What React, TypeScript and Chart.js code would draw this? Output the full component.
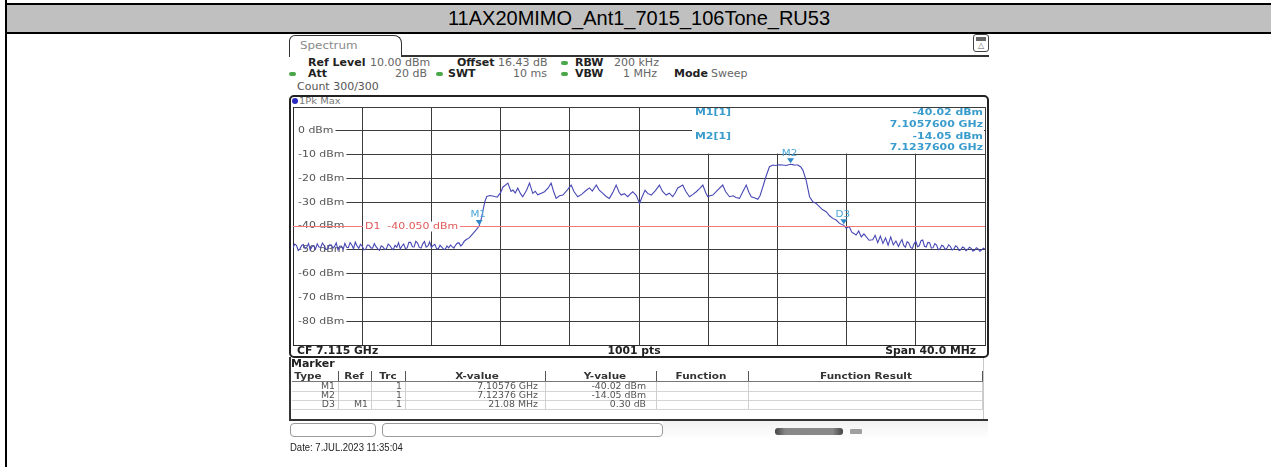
import React, { useEffect, useRef } from "react";
import { Chart, registerables } from "chart.js";

Chart.register(...registerables);

// ---------------- data ----------------
const titleText = "11AX20MIMO_Ant1_7015_106Tone_RU53";
const centerFreqGHz = 7.115;
const spanMHz = 40;
const refLevelDbm = 10;
const yDivDb = 10;
const displayLineDbm = -40.05;

const traceFreqGHz = [
  7.0950, 7.0951, 7.0952, 7.0953, 7.0954, 7.0955, 7.0956, 7.0957, 7.0958, 7.0959,
  7.0960, 7.0961, 7.0962, 7.0963, 7.0964, 7.0965, 7.0966, 7.0967, 7.0968, 7.0969,
  7.0970, 7.0971, 7.0972, 7.0973, 7.0974, 7.0975, 7.0976, 7.0977, 7.0978, 7.0979,
  7.0980, 7.0981, 7.0982, 7.0983, 7.0984, 7.0985, 7.0986, 7.0987, 7.0988, 7.0989,
  7.0990, 7.0991, 7.0992, 7.0993, 7.0994, 7.0995, 7.0996, 7.0997, 7.0998, 7.0999,
  7.1000, 7.1001, 7.1002, 7.1003, 7.1004, 7.1005, 7.1006, 7.1007, 7.1008, 7.1009,
  7.1010, 7.1011, 7.1012, 7.1013, 7.1014, 7.1015, 7.1016, 7.1017, 7.1018, 7.1019,
  7.1020, 7.1021, 7.1022, 7.1023, 7.1024, 7.1025, 7.1026, 7.1027, 7.1028, 7.1029,
  7.1030, 7.1031, 7.1032, 7.1033, 7.1034, 7.1035, 7.1036, 7.1037, 7.1038, 7.1039,
  7.1040, 7.1041, 7.1042, 7.1043, 7.1044, 7.1045, 7.1046, 7.1047, 7.1048, 7.1049,
  7.1050, 7.1052, 7.1054, 7.1056, 7.10576, 7.1059, 7.1060, 7.1061, 7.1062, 7.1064,
  7.1066, 7.1068, 7.1070, 7.10713, 7.10742, 7.1076, 7.10771, 7.10785, 7.10799, 7.10815,
  7.10828, 7.1085, 7.10867, 7.10886, 7.1090, 7.10915, 7.10935, 7.10954, 7.10975, 7.10992,
  7.11005, 7.11021, 7.1104, 7.1106, 7.11085, 7.11108, 7.11125, 7.11146, 7.1117, 7.11195,
  7.11214, 7.1123, 7.11253, 7.1127, 7.11291, 7.1131, 7.11329, 7.1135, 7.11368, 7.11385,
  7.11397, 7.11415, 7.11435, 7.1145, 7.11464, 7.11485, 7.11503, 7.1152, 7.11535, 7.1155,
  7.11571, 7.11595, 7.11618, 7.11635, 7.11657, 7.11675, 7.11695, 7.1171, 7.11724, 7.11753,
  7.1177, 7.11792, 7.1181, 7.11831, 7.1185, 7.11869, 7.11885, 7.11898, 7.1191, 7.11927,
  7.1195, 7.11984, 7.1200, 7.12023, 7.12045, 7.1206, 7.12081, 7.1210, 7.1212, 7.12135,
  7.12149, 7.1217, 7.12187, 7.1220, 7.12216, 7.12235, 7.12254, 7.12273, 7.1229, 7.1231,
  7.12331, 7.1235, 7.12376, 7.12395, 7.12418, 7.12435, 7.12447, 7.12466, 7.12486, 7.12505,
  7.12525, 7.12543, 7.1256, 7.12582, 7.1260, 7.1262, 7.1264, 7.12659, 7.12684, 7.12698,
  7.12715, 7.1273, 7.12755, 7.1277, 7.12785, 7.1280, 7.12813, 7.1283, 7.12851, 7.12865,
  7.1288, 7.12895, 7.1291, 7.12925, 7.1294, 7.12955, 7.1297, 7.12985,
  7.1300, 7.1301, 7.1302, 7.1303, 7.1304, 7.1305, 7.1306, 7.1307, 7.1308, 7.1309,
  7.1310, 7.1311, 7.1312, 7.1313, 7.1314, 7.1315, 7.1316, 7.1317, 7.1318, 7.1319,
  7.1320, 7.1321, 7.1322, 7.1323, 7.1324, 7.1325, 7.1326, 7.1327, 7.1328, 7.1329,
  7.1330, 7.1331, 7.1332, 7.1333, 7.1334, 7.1335, 7.1336, 7.1337, 7.1338, 7.1339,
  7.1340, 7.1341, 7.1342, 7.1343, 7.1344, 7.1345, 7.1346, 7.1347, 7.1348, 7.1349,
  7.1350,
];

const traceLevelDbm = [
  -49.2, -47.6, -48.1, -50.3, -49.6, -48.2, -47.8, -49.5, -48.9, -47.4,
  -50.1, -48.6, -48.3, -49.7, -47.5, -48.8, -49.0, -47.2, -48.2, -49.9,
  -49.7, -48.0, -47.9, -49.4, -48.6, -47.1, -50.0, -48.5, -48.4, -49.8,
  -47.3, -48.9, -49.1, -47.0, -48.0, -49.6, -46.8, -48.3, -49.4, -47.7,
  -48.5, -50.0, -49.8, -48.0, -48.1, -49.2, -49.3, -47.4, -48.7, -49.6,
  -50.2, -48.3, -48.8, -49.9, -49.5, -47.6, -48.2, -49.4, -49.9, -48.1,
  -48.9, -47.0, -49.6, -48.4, -47.6, -49.5, -49.2, -46.9, -46.9, -48.7,
  -48.8, -46.4, -47.2, -49.0, -49.3, -47.5, -46.5, -48.9, -48.4, -46.7,
  -49.1, -48.2, -47.7, -49.5, -49.6, -48.1, -48.9, -49.7, -49.8, -48.4,
  -49.2, -48.0, -48.7, -49.3, -48.0, -47.2, -47.1, -48.4, -47.6, -46.4,
  -45.8, -44.9, -43.2, -41.5, -40.02, -36.5, -32.8, -29.5, -27.6, -27.2,
  -27.5, -27.9, -26.0, -23.7, -22.0, -25.5, -24.9, -26.1, -24.0, -26.4,
  -27.7, -25.0, -22.0, -26.3, -25.4, -26.9, -26.2, -25.6, -24.0, -22.0,
  -25.2, -28.4, -27.3, -27.0, -24.9, -22.8, -25.6, -27.7, -26.6, -25.0,
  -24.0, -25.3, -22.8, -24.9, -26.3, -27.6, -28.4, -25.7, -22.8, -25.8,
  -27.0, -26.4, -27.7, -26.5, -25.6, -27.2, -30.5, -27.4, -25.0, -26.3,
  -27.0, -25.1, -22.8, -25.4, -27.0, -26.2, -27.7, -26.0, -24.0, -22.8,
  -25.4, -27.7, -26.8, -25.6, -24.3, -22.8, -25.9, -27.7, -27.3, -27.0,
  -25.2, -22.8, -25.5, -27.7, -27.3, -28.0, -28.4, -25.6, -22.8, -25.8,
  -27.7, -28.2, -28.8, -27.2, -23.5, -19.0, -15.1, -14.4, -14.6, -14.3,
  -14.4, -14.6, -14.05, -14.3, -14.4, -15.2, -16.5, -20.7, -27.7, -29.8,
  -30.6, -31.9, -33.1, -34.0, -35.6, -36.8, -37.5, -38.9, -39.72, -41.0,
  -40.2, -42.6, -43.8, -42.1, -44.6, -43.3, -44.5, -46.0, -45.8, -43.9,
  -47.0, -44.2, -47.3, -45.0, -48.1, -44.6, -47.9, -46.3,
  -48.6, -46.9, -45.7, -48.2, -48.9, -46.6, -47.2, -49.0, -49.4, -47.5,
  -46.4, -48.7, -48.3, -46.2, -45.9, -48.5, -48.8, -46.9, -47.0, -49.3,
  -49.1, -47.4, -48.0, -50.0, -49.6, -48.1, -48.5, -49.9, -49.3, -47.9,
  -48.6, -50.1, -49.7, -48.3, -48.9, -50.3, -50.0, -48.8, -49.2, -50.4,
  -49.8, -48.9, -49.4, -50.5, -50.2, -49.1, -49.6, -50.6, -50.1, -49.3,
  -49.7,
];

const markerNames = ["M1", "M2", "D3"];
const markerFreqGHz = [7.10576, 7.12376, 7.12684];
const markerLevelDbm = [-40.02, -14.05, -39.72];

const infoLabels = ["M1[1]", "M2[1]"];
const infoLevels = ["-40.02 dBm", "-14.05 dBm"];
const infoFreqs = ["7.1057600 GHz", "7.1237600 GHz"];

const tableHeaders = ["Type", "Ref", "Trc", "X-value", "Y-value", "Function", "Function Result"];
const tableType = ["M1", "M2", "D3"];
const tableRef = ["", "", "M1"];
const tableTrc = ["1", "1", "1"];
const tableX = ["7.10576 GHz", "7.12376 GHz", "21.08 MHz"];
const tableY = ["-40.02 dBm", "-14.05 dBm", "0.30 dB"];

// ---------------- helpers ----------------
const UI = "'DejaVu Sans', sans-serif";
const SX = 1.15;

function T(props: {
  x: number; y: number; children: React.ReactNode; size?: number; bold?: boolean;
  color?: string; align?: "left" | "right" | "center"; sx?: number; family?: string;
}) {
  const { x, y, children, size = 10, bold = false, color = "#333", align = "left", sx = SX, family = UI } = props;
  const tx = align === "left" ? 0 : align === "right" ? -100 : -50;
  return (
    <span
      style={{
        position: "absolute", left: x, top: y, whiteSpace: "nowrap", fontFamily: family,
        fontSize: size, fontWeight: bold ? "bold" : "normal", color, lineHeight: 1.15,
        transform: `translateY(-50%) scaleX(${sx}) translateX(${tx}%)`, transformOrigin: "left center",
      }}
    >
      {children}
    </span>
  );
}

function Box(props: { x: number; y: number; w: number; h: number; style?: React.CSSProperties }) {
  return <div style={{ position: "absolute", left: props.x, top: props.y, width: props.w, height: props.h, boxSizing: "border-box", ...props.style }} />;
}

function Green(props: { x: number; y: number }) {
  return <Box x={props.x} y={props.y - 2} w={7} h={4} style={{ background: "#4aa84a", borderRadius: 2 }} />;
}

function drawScaled(ctx: CanvasRenderingContext2D, text: string, x: number, y: number, align: CanvasTextAlign, sx = SX) {
  ctx.save();
  ctx.translate(x, y);
  ctx.scale(sx, 1);
  ctx.textAlign = align;
  ctx.textBaseline = "middle";
  ctx.fillText(text, 0, 0);
  ctx.restore();
}

const overlayPlugin = {
  id: "overlay",
  beforeDatasetsDraw(chart: any) {
    const { ctx, chartArea: a, scales } = chart;
    const ys = scales.y;
    ctx.save();
    // marker info box (covers grid)
    const boxBottom = ys.getPixelForValue(-10) - 1;
    ctx.fillStyle = "#ffffff";
    ctx.fillRect(a.left + 399, a.top + 1, a.right - a.left - 400, boxBottom - a.top - 1);
    ctx.fillStyle = "#3a9ccc";
    ctx.font = `bold 9.5px ${UI}`;
    for (let i = 0; i < infoLabels.length; i++) {
      const y0 = a.top + 6 + i * 23.5;
      drawScaled(ctx, infoLabels[i], a.left + 402, y0, "left");
      drawScaled(ctx, infoLevels[i], a.right - 2, y0, "right");
      drawScaled(ctx, infoFreqs[i], a.right - 2, y0 + 11.5, "right");
    }
    // y tick labels (inside, with white backdrop)
    ctx.font = `9.5px ${UI}`;
    ys.ticks.forEach((t: any) => {
      if (t.value >= refLevelDbm || t.value <= refLevelDbm - 100) return;
      const py = ys.getPixelForValue(t.value);
      const label = `${t.value} dBm`;
      const w = ctx.measureText(label).width * SX;
      ctx.fillStyle = "#ffffff";
      ctx.fillRect(a.left + 1, py - 5, w + 6, 10);
      ctx.fillStyle = "#555555";
      drawScaled(ctx, label, a.left + 5, py, "left");
    });
    ctx.restore();
  },
  afterDatasetsDraw(chart: any) {
    const { ctx, chartArea: a, scales } = chart;
    const xs = scales.x, ys = scales.y;
    ctx.save();
    // display line D1
    const dy = Math.round(ys.getPixelForValue(displayLineDbm)) + 0.5;
    ctx.strokeStyle = "#f07a7a";
    ctx.lineWidth = 1;
    ctx.beginPath();
    ctx.moveTo(a.left, dy);
    ctx.lineTo(a.right, dy);
    ctx.stroke();
    ctx.font = `9.5px ${UI}`;
    const d1 = `D1  ${displayLineDbm.toFixed(3)} dBm`;
    const dw = ctx.measureText(d1).width * SX;
    ctx.fillStyle = "#ffffff";
    ctx.fillRect(a.left + 70, dy - 5, dw + 4, 10);
    ctx.fillStyle = "#e05858";
    drawScaled(ctx, d1, a.left + 72, dy, "left");
    // markers
    for (let i = 0; i < markerNames.length; i++) {
      const px = xs.getPixelForValue(markerFreqGHz[i]);
      const py = ys.getPixelForValue(markerLevelDbm[i]);
      ctx.fillStyle = "#2f88c8";
      ctx.beginPath();
      ctx.moveTo(px - 3.5, py - 6);
      ctx.lineTo(px + 3.5, py - 6);
      ctx.lineTo(px, py - 1);
      ctx.closePath();
      ctx.fill();
      ctx.fillStyle = "#4aa6d6";
      ctx.font = `9px ${UI}`;
      drawScaled(ctx, markerNames[i], px - 1, py - 11, "center");
    }
    ctx.restore();
  },
};

function SpectrumChart() {
  const ref = useRef<HTMLCanvasElement | null>(null);
  useEffect(() => {
    if (!ref.current) return;
    const half = spanMHz / 2 / 1000;
    const chart = new Chart(ref.current, {
      type: "line",
      data: {
        datasets: [
          {
            data: traceFreqGHz.map((f, i) => ({ x: f, y: traceLevelDbm[i] })),
            borderColor: "#4848b4",
            borderWidth: 1.1,
            pointRadius: 0,
            tension: 0,
            fill: false,
          },
        ],
      },
      options: {
        animation: false,
        responsive: false,
        events: [],
        layout: { padding: { left: 5, top: 5, right: 5, bottom: 5 } },
        plugins: { legend: { display: false }, tooltip: { enabled: false }, title: { display: false } },
        scales: {
          x: {
            type: "linear",
            min: centerFreqGHz - half,
            max: centerFreqGHz + half,
            ticks: { display: false, stepSize: spanMHz / 10 / 1000 },
            grid: { color: "#3c3c3c", drawTicks: false, lineWidth: 1 },
            border: { display: true, color: "#2a2a2a" },
            afterFit: (s: any) => { s.height = 0; },
          },
          y: {
            type: "linear",
            min: refLevelDbm - 100,
            max: refLevelDbm,
            ticks: { display: false, stepSize: yDivDb },
            grid: { color: "#3c3c3c", drawTicks: false, lineWidth: 1 },
            border: { display: true, color: "#2a2a2a" },
            afterFit: (s: any) => { s.width = 0; },
          },
        },
      },
      plugins: [overlayPlugin],
    } as any);
    return () => chart.destroy();
  }, []);
  return (
    <canvas
      ref={ref}
      width={702}
      height={248}
      style={{ position: "absolute", left: 288, top: 102, width: 702, height: 248 }}
    />
  );
}

// ---------------- page ----------------
export default function App() {
  const colSep = [338, 371, 405, 545, 656, 748, 982];
  const headerCenters = [308, 354, 388, 477, 605, 701, 866];
  const rowY = [386.5, 395.5, 404.5];
  return (
    <div style={{ position: "absolute", left: 0, top: 0, width: 1271, height: 467, background: "#fff", overflow: "hidden" }}>
      {/* title bar */}
      <Box x={7} y={5} w={1264} h={27} style={{ background: "#c0c0c0" }} />
      <Box x={5} y={3} w={1266} h={2} style={{ background: "#000" }} />
      <Box x={5} y={32} w={1266} h={2} style={{ background: "#000" }} />
      <Box x={5} y={0} w={2} h={467} style={{ background: "#000" }} />
      <div style={{ position: "absolute", left: 7, top: 5, width: 1264, height: 27, lineHeight: "27px", textAlign: "center", fontFamily: "'Liberation Sans', Arial, sans-serif", fontSize: 20, color: "#000" }}>
        {titleText}
      </div>

      {/* spectrum window tab */}
      <Box x={289} y={35} w={113} h={22} style={{ border: "1.5px solid #333", borderBottom: "none", borderRadius: "6px 8px 0 0" }} />
      <Box x={401} y={55} w={588} h={1.5} style={{ background: "#333" }} />
      <T x={300} y={46} size={11} color="#8a8a8a" sx={1.08}>Spectrum</T>
      <Box x={973} y={34} w={16} h={18} style={{ border: "1.2px solid #444", borderRadius: 3 }} />
      <Box x={976} y={37} w={10} h={4} style={{ background: "#666" }} />
      <T x={981} y={46} size={8} color="#666" align="center" sx={1}>△</T>

      {/* settings */}
      <T x={307.5} y={63} bold color="#222" sx={1.1}>Ref Level</T>
      <T x={370} y={63} color="#666" sx={1.1}>10.00 dBm</T>
      <T x={457} y={63} bold color="#222" sx={1.1}>Offset</T>
      <T x={498} y={63} color="#666" sx={1.1}>16.43 dB</T>
      <Green x={561} y={63} />
      <T x={575} y={63} bold color="#222" sx={1.1}>RBW</T>
      <T x={614} y={63} color="#666" sx={1.1}>200 kHz</T>

      <Green x={289} y={74} />
      <T x={307.5} y={74} bold color="#222" sx={1.1}>Att</T>
      <T x={427} y={74} color="#666" align="right" sx={1.1}>20 dB</T>
      <Green x={436} y={74} />
      <T x={448} y={74} bold color="#222" sx={1.1}>SWT</T>
      <T x={547} y={74} color="#666" align="right" sx={1.1}>10 ms</T>
      <Green x={561} y={74} />
      <T x={575} y={74} bold color="#222" sx={1.1}>VBW</T>
      <T x={657} y={74} color="#666" align="right" sx={1.1}>1 MHz</T>
      <T x={674} y={74} bold color="#222" sx={1.1}>Mode</T>
      <T x={711} y={74} color="#666" sx={1.1}>Sweep</T>

      <T x={297} y={86.5} color="#555" sx={1.1}>Count 300/300</T>

      {/* plot frame */}
      <Box x={289} y={95} w={700} h={263} style={{ border: "2px solid #222", borderRadius: 5 }} />
      <Box x={292} y={98} w={6} h={6} style={{ background: "#2a2ac0", borderRadius: 3 }} />
      <T x={299} y={101} size={9} color="#777" sx={1.1}>1Pk Max</T>

      <SpectrumChart />

      <T x={297} y={350.5} bold color="#222" sx={1.08}>CF 7.115 GHz</T>
      <T x={634} y={350.5} bold color="#222" align="center" sx={1.08}>1001 pts</T>
      <T x={976} y={350.5} bold color="#222" align="right" sx={1.08}>Span 40.0 MHz</T>

      {/* marker panel */}
      <Box x={289} y={357} w={2} h={64} style={{ background: "#333" }} />
      <Box x={289} y={419} w={699} h={2} style={{ background: "#333" }} />
      <Box x={983} y={358} w={1} h={61} style={{ background: "#c8c8c8" }} />
      <T x={291} y={364} bold color="#222" sx={1.1}>Marker</T>
      <Box x={292} y={381} w={691} h={1} style={{ background: "#777" }} />
      {[390.5, 399.5, 408.5].map((y, i) => (
        <Box key={i} x={292} y={y} w={691} h={1} style={{ background: "#d4d4d4" }} />
      ))}
      {colSep.map((x, i) => (
        <React.Fragment key={i}>
          <Box x={x} y={371} w={1} h={10} style={{ background: "#555" }} />
          <Box x={x} y={382} w={1} h={27} style={{ background: "#cfcfcf" }} />
        </React.Fragment>
      ))}
      {tableHeaders.map((h, i) => (
        <T key={h} x={headerCenters[i]} y={376} size={9.5} bold color="#333" align="center" sx={1.1}>{h}</T>
      ))}
      {tableType.map((v, i) => (
        <React.Fragment key={i}>
          <T x={335} y={rowY[i]} size={8.5} color="#555" align="right" sx={1.1}>{v}</T>
          <T x={368} y={rowY[i]} size={8.5} color="#555" align="right" sx={1.1}>{tableRef[i]}</T>
          <T x={402} y={rowY[i]} size={8.5} color="#555" align="right" sx={1.1}>{tableTrc[i]}</T>
          <T x={538} y={rowY[i]} size={8.5} color="#555" align="right" sx={1.1}>{tableX[i]}</T>
          <T x={646} y={rowY[i]} size={8.5} color="#555" align="right" sx={1.1}>{tableY[i]}</T>
        </React.Fragment>
      ))}

      {/* status bar */}
      <Box x={290} y={423} w={86} h={14} style={{ border: "1px solid #9a9a9a", borderRadius: 4 }} />
      <Box x={382} y={423} w={281} h={14} style={{ border: "1px solid #9a9a9a", borderRadius: 4 }} />
      <Box x={663} y={421} w={325} h={18} style={{ background: "linear-gradient(#f2f2f2, #ffffff)" }} />
      <Box x={775} y={428} w={68} h={7} style={{ background: "linear-gradient(90deg, #444, #888 15%, #888 85%, #444)", borderRadius: 3 }} />
      <Box x={850} y={429} w={12} h={5} style={{ background: "#888", borderRadius: 1, opacity: 0.8 }} />

      <T x={290} y={447.5} size={10} color="#222" family="'Liberation Sans', Arial, sans-serif" sx={0.95}>Date: 7.JUL.2023  11:35:04</T>
    </div>
  );
}
